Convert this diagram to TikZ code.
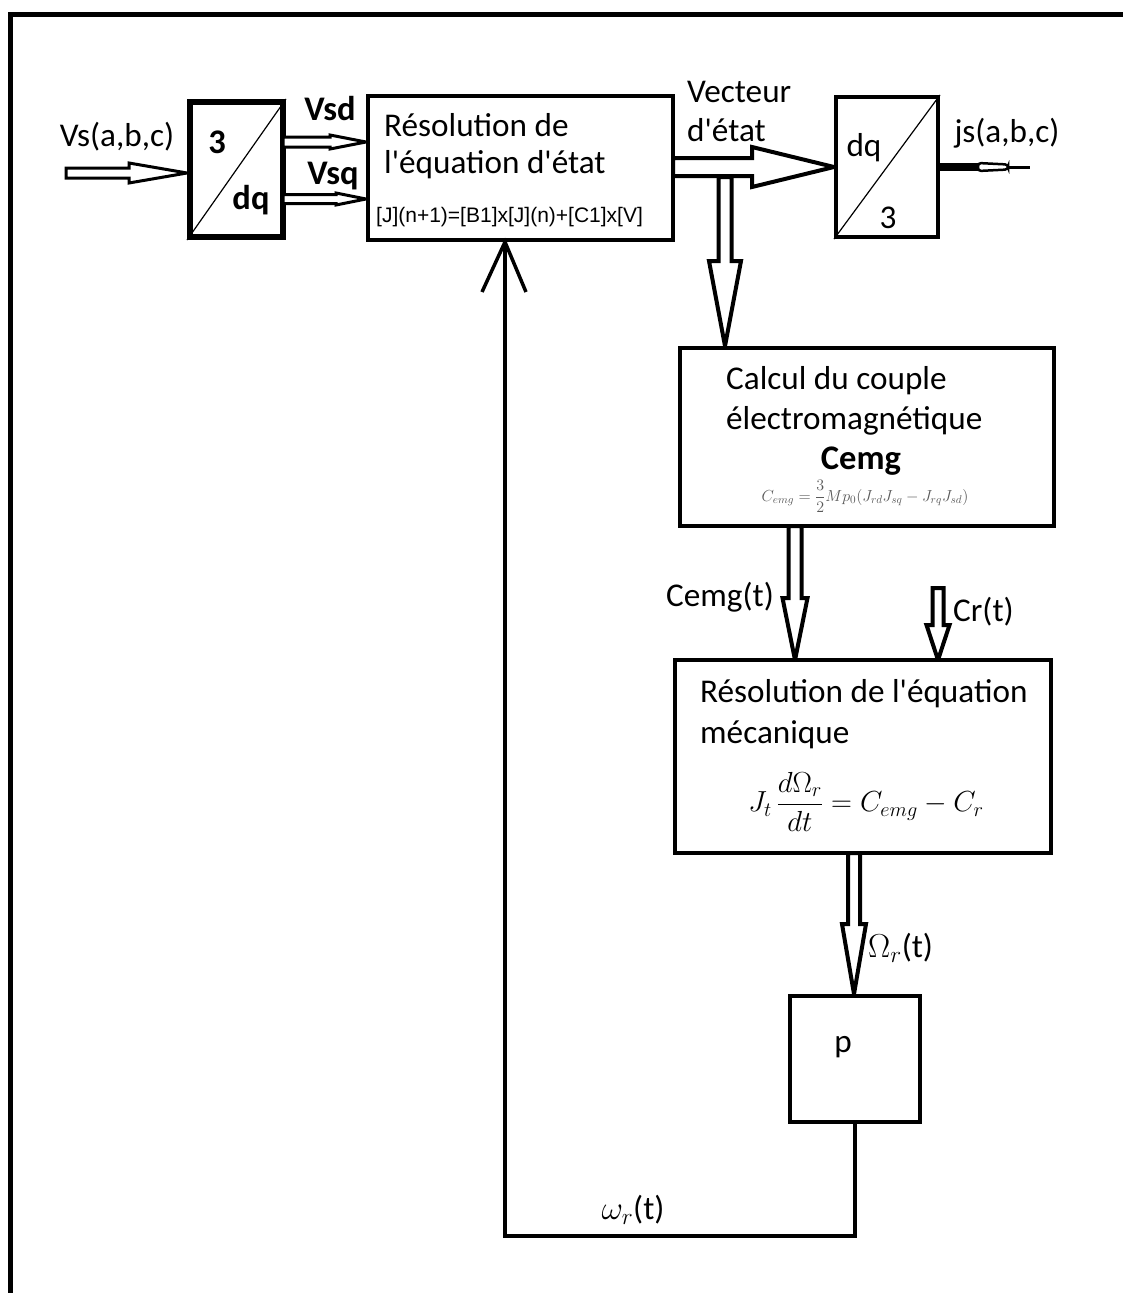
\RequirePackage{fix-cm}
\documentclass[tikz,border=0pt]{standalone}
\usepackage{fontspec}
\setmainfont{Carlito}
\newfontfamily\arialf{Liberation Sans}
\usetikzlibrary{calc}
\newcommand\hollowH[6]{%
 \draw[#1] let \p1=(#2), \p2=(#3) in
 (\x1,\y1+#4pt) -- (\x2-#6pt,\y1+#4pt) -- (\x2-#6pt,\y1+#5pt) -- (\x2,\y1)
 -- (\x2-#6pt,\y1-#5pt) -- (\x2-#6pt,\y1-#4pt) -- (\x1,\y1-#4pt) -- cycle;}
\newcommand\hollowV[6]{%
 \draw[#1] let \p1=(#2), \p2=(#3) in
 (\x1-#4pt,\y1) -- (\x1-#4pt,\y2+#6pt) -- (\x1-#5pt,\y2+#6pt) -- (\x1,\y2)
 -- (\x1+#5pt,\y2+#6pt) -- (\x1+#4pt,\y2+#6pt) -- (\x1+#4pt,\y1) -- cycle;}
\newcommand\apos{\textquotesingle}
\begin{document}
\begin{tikzpicture}[x=1pt,y=-1pt,
  box/.style={draw, line width=4pt, rectangle, inner sep=0pt},
  txt/.style={inner sep=0pt, font=\fontsize{33.2}{39}\selectfont},
  btxt/.style={inner sep=0pt, font=\fontsize{34.5}{40}\selectfont\bfseries},
  harr/.style={draw, line width=3pt, fill=white, miter limit=3},
  thinline/.style={line width=1.2pt},
  fb/.style={line width=4pt, line join=miter}]
\useasboundingbox (0,0) rectangle (1123,1293);
% frame
\draw[line width=5pt] (1123,14) -- (10,14) -- (10,1293);

% boxes
\node[box, line width=6pt, minimum width=93pt, minimum height=135pt] (A) at (236.5,169.5) {};
\node[box, minimum width=305pt, minimum height=144pt] (R) at (520.5,168) {};
\node[box, minimum width=102pt, minimum height=140pt] (D) at (887,167) {};
\node[box, minimum width=374pt, minimum height=178pt] (C) at (867,437) {};
\node[box, minimum width=376pt, minimum height=193pt] (M) at (863,756.5) {};
\node[box, minimum width=130pt, minimum height=126pt] (P) at (855,1059) {};

% diagonals
\draw[thinline] (A.south west) -- (A.north east);
\draw[thinline] (D.south west) -- (D.north east);

% texts
\node[btxt] (a3) at (217,142) {3};
\node[btxt] (adq) at (251,200) {dq};
\node[txt] (vs) at (117,137) {Vs(a,b,c)};
\node[btxt] (vsd) at (330,109) {Vsd};
\node[btxt] (vsq) at (333,176) {Vsq};
\node[txt, anchor=west] (r1) at (384,125) {Résolution de};
\node[txt, anchor=west] (r2) at (384,165) {l\apos équation d\apos état};
\node[inner sep=0pt, anchor=west, font=\arialf\fontsize{21}{24}\selectfont] (r3) at (376,217) {[J](n+1)=[B1]x[J](n)+[C1]x[V]};
\node[txt, anchor=west] (ve1) at (687,92) {Vecteur};
\node[txt, anchor=west] (ve2) at (687,130) {d\apos état};
\node[txt] (ddq) at (864,148) {dq};
\node[txt] (d3) at (888,218) {3};
\node[txt] (js) at (1007,133) {js(a,b,c)};
\node[txt, anchor=west] (c1) at (726,381) {Calcul du couple};
\node[txt, anchor=west] (c2) at (726,421) {électromagnétique};
\node[btxt] (c3) at (861,461) {Cemg};
\node[inner sep=0pt, text=black!65, font=\fontsize{16}{19}\selectfont] (c4) at (865,496)
  {$\displaystyle C_{emg}=\frac{3}{2}Mp_0(J_{rd}J_{sq}-J_{rq}J_{sd})$};
\node[txt, anchor=east] (lcemg) at (774,597) {Cemg(t)};
\node[txt, anchor=west] (lcr) at (953,612) {Cr(t)};
\node[txt, anchor=west] (m1) at (700,694) {Résolution de l\apos équation};
\node[txt, anchor=west] (m2) at (700,735) {mécanique};
\node[inner sep=0pt, font=\fontsize{29}{34}\selectfont] (m3) at (866,802)
  {$\displaystyle J_t\,\frac{d\Omega_r}{dt}=C_{emg}-C_r$};
\node[txt, anchor=west] (lom) at (868,948) {$\Omega_r$(t)};
\node[txt] (pp) at (843,1047) {p};
\node[txt] (lw) at (633,1210) {$\omega_r$(t)};

% coordinates
\coordinate (in) at (66,173);
\coordinate (vsdS) at (283,142);
\coordinate (vsqS) at (283,199);
\coordinate (outS) at (673,167);
\coordinate (brS) at (725,177);
\coordinate (brE) at (725,346);
\coordinate (ceS) at (795,526);
\coordinate (ceE) at (795,660);
\coordinate (crS) at (938,588);
\coordinate (crE) at (938,660);
\coordinate (omS) at (854,853);
\coordinate (omE) at (854,994);
\coordinate (fbB) at (856,1236);
\coordinate (fbL) at (505,1236);
\coordinate (fbT) at (505,242);

% hollow arrows
\hollowH{harr}{in}{A.west}{5}{10}{58}
\hollowH{harr}{vsdS}{R.west}{5}{7}{36}
\hollowH{harr}{vsqS}{R.west}{4.5}{6}{30}
\hollowH{harr, line width=4pt}{outS}{D.west}{9}{20}{82}
\hollowV{harr, line width=4pt}{brS}{brE}{6.5}{16}{85}
\hollowV{harr, line width=4pt}{ceS}{ceE}{6.5}{12.5}{62}
\hollowV{harr, line width=4pt}{crS}{crE}{5.5}{11.5}{35}
\hollowV{harr, line width=4pt}{omS}{omE}{6}{12}{70}

% output js
\coordinate (js1) at (982,167);
\coordinate (js2) at (1030,167);
\draw[line width=8pt] (D.east |- js1) -- (js1);
\draw[line width=2.5pt, fill=white, rounded corners=3pt] (978,163) -- (1008,164.5) -- (1008,169.5) -- (978,171) -- cycle;
\draw[line width=3pt] (1008,167) -- (js2);

% feedback
\draw[fb] (P.south) -- (P.south |- fbB) -- (fbL) -- (fbT);
\draw[line width=3.5pt] ($(fbT)+(-23,50)$) -- (fbT) -- ($(fbT)+(21,50)$);
\end{tikzpicture}
\end{document}
